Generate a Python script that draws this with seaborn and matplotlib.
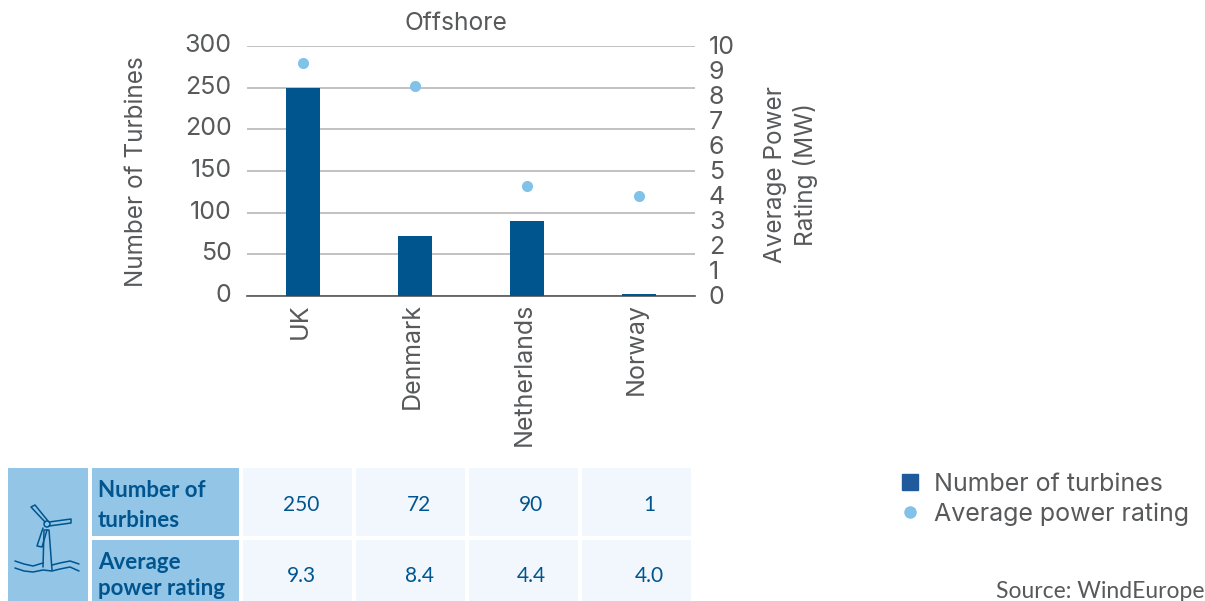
import matplotlib
matplotlib.use('Agg')
import matplotlib.pyplot as plt
import matplotlib.transforms as mtrans
from matplotlib.lines import Line2D
from matplotlib.patches import Rectangle, Circle
import pandas as pd
import seaborn as sns

countries = ['UK', 'Denmark', 'Netherlands', 'Norway']
turbines = [250, 72, 90, 3]
rating = [9.3, 8.4, 4.4, 4.0]
left_ticks = [0, 50, 100, 150, 200, 250, 300]
right_ticks = [0, 1, 2, 3, 4, 5, 6, 7, 8, 9, 10]
row_names = ['Number of\nturbines', 'Average\npower rating']
turbine_text = ['250', '72', '90', '1']
rating_text = ['9.3', '8.4', '4.4', '4.0']

GREY = '#58595b'
NAVY = '#00558f'
SKY = '#82c1e8'
W, H = 1205, 601

df = pd.DataFrame({'country': countries, 'turbines': turbines, 'rating': rating})

sns.set_theme(style='white')
plt.rcParams['font.family'] = ['Inter', 'DejaVu Sans']
fig = plt.figure(figsize=(W / 100, H / 100), dpi=100)

# main axes, placed by pixel
ax = fig.add_axes([247 / W, 1 - 296 / H, 448 / W, 250 / H])
sns.barplot(data=df, x='country', y='turbines', color=NAVY, saturation=1, width=0.31, linewidth=0, ax=ax, zorder=3)
ax.set_ylim(0, 300)
ax.set_yticks(left_ticks)
ax.grid(axis='y', color='#bdbdbd', lw=1.3, zorder=0)
ax.set_axisbelow(True)
sns.despine(ax=ax, left=True, top=True, right=True)
ax.spines['bottom'].set_color('#555555')
ax.spines['bottom'].set_linewidth(1.2)
ax.tick_params(axis='y', length=0, pad=11, labelsize=18, labelcolor=GREY)
ax.tick_params(axis='x', length=0, pad=5, labelsize=18, labelcolor=GREY, labelrotation=90)
ax.set_xlabel('')
ax.set_ylabel('Number of Turbines', fontsize=17.5, color=GREY)
ax.yaxis.set_label_coords((148 - 247) / 448, (296 - 172) / 250)
ax.text((456 - 247) / 448, (296 - 24) / 250, 'Offshore', transform=ax.transAxes, fontsize=17.7, color=GREY,
        ha='center', va='center')
up = mtrans.ScaledTranslation(0, 3 / 100, fig.dpi_scale_trans)
for lab in ax.get_yticklabels():
    lab.set_transform(lab.get_transform() + up)
left = mtrans.ScaledTranslation(-3 / 100, 0, fig.dpi_scale_trans)
for lab in ax.get_xticklabels():
    lab.set_transform(lab.get_transform() + left)

ax2 = ax.twinx()
sns.stripplot(data=df, x='country', y='rating', color=SKY, size=8, jitter=False, ax=ax2, zorder=5)
ax2.set_xlim(-0.5, 3.5)
ax2.set_ylim(0, 10)
ax2.set_yticks(right_ticks)
ax2.grid(False)
for s in ax2.spines.values():
    s.set_visible(False)
ax2.tick_params(axis='y', length=0, pad=10, labelsize=18, labelcolor=GREY)
ax2.set_ylabel('Average Power\nRating (MW)', fontsize=17.5, color=GREY, linespacing=1.3)
ax2.yaxis.set_label_coords((764 - 247) / 448, (296 - 175) / 250)
up2 = mtrans.ScaledTranslation(0, 1 / 100, fig.dpi_scale_trans)
for lab in ax2.get_yticklabels():
    lab.set_transform(lab.get_transform() + up2)

# table and icon, in pixel coordinates
tb = fig.add_axes([0, 0, 1, 1], zorder=-1)
tb.set_xlim(0, W)
tb.set_ylim(H, 0)
tb.axis('off')
HEAD = '#92c5e6'
CELL = '#f2f7fd'
rows = [(468, 536), (540, 601)]
cols = [(243, 352), (356, 465), (469, 578), (582, 691)]
text_x = [301, 419, 531, 649]
text_y = [505, 576]
head_y = [505.5, 575.5]
head_space = [1.5, 1.32]
tb.add_patch(Rectangle((8, 468), 80, 133, color=HEAD, lw=0))
for i, ((y0, y1), name, vals) in enumerate(zip(rows, row_names, [turbine_text, rating_text])):
    tb.add_patch(Rectangle((92, y0), 147, y1 - y0, color=HEAD, lw=0))
    tb.text(98, head_y[i], name, family='Lato', weight='bold', fontsize=16, color=NAVY,
            va='center', ha='left', linespacing=head_space[i])
    for (x0, x1), tx, v in zip(cols, text_x, vals):
        tb.add_patch(Rectangle((x0, y0), x1 - x0, y1 - y0, color=CELL, lw=0))
        tb.text(tx, text_y[i], v, family='Lato', fontsize=15, color=NAVY, va='center', ha='center')

# turbine pictogram
icon = [
    ([43, 44, 49, 52], [567, 530, 530, 570]),
    ([45, 31, 35, 48], [522, 507, 505, 521]),
    ([49, 71, 71, 49], [522, 519, 523, 526]),
    ([43, 37, 42, 47], [528, 546, 547, 530]),
    ([15, 24, 33, 43], [561, 564, 566, 563]),
    ([52, 60, 70, 79], [565, 563, 561, 564]),
    ([15, 24, 33, 43, 52, 60, 70, 79], [568, 571, 572, 570, 571, 569, 567, 571]),
]
for xs, ys in icon:
    tb.add_line(Line2D(xs, ys, color=NAVY, lw=1.1))
tb.add_patch(Circle((47, 524), 3, fc=HEAD, ec=NAVY, lw=1.1))

# legend
handles = [
    Line2D([], [], marker='s', ls='', ms=11.5, color='#1f5a9c'),
    Line2D([], [], marker='o', ls='', ms=8, color=SKY),
]
fig.legend(handles, ['Number of turbines', 'Average power rating'], frameon=False, fontsize=18,
           labelcolor=GREY, loc='upper left', bbox_to_anchor=(881 / W, 1 - 463 / H),
           borderaxespad=0, handletextpad=0.2, labelspacing=0.26, handlelength=1.5)

tb.text(1205, 592, 'Source: WindEurope', family='Lato', fontsize=16.5, color=GREY, ha='right', va='center')

fig.savefig('out.png', dpi=100)
